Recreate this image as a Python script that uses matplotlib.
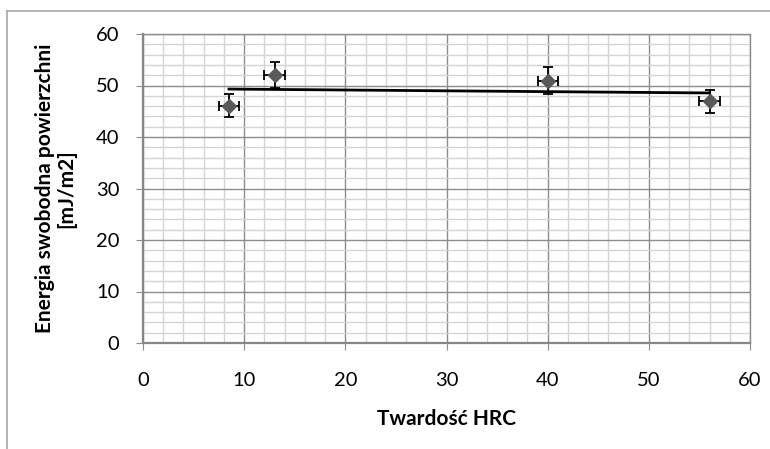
import numpy as np
import matplotlib.pyplot as plt
from matplotlib.lines import Line2D
from matplotlib.ticker import MultipleLocator

hrc = [8.5, 13.0, 40.0, 56.0]
energy = [46.1, 52.0, 50.9, 46.9]
energy_err = [2.3, 2.5, 2.6, 2.3]
hrc_err = [1.0, 1.0, 1.0, 1.0]

plt.rcParams['font.family'] = ['Lato', 'DejaVu Sans']

fig = plt.figure(figsize=(7.7, 4.49), dpi=100)
ax = fig.add_axes([143 / 770, 1 - 343 / 449, (750 - 143) / 770, (343 - 34) / 449])

# ramka wykresu (przycięta: tylko lewa i górna krawędź)
fig.add_artist(Line2D([7 / 770, 7 / 770], [0, 1 - 11 / 449], transform=fig.transFigure,
                      color='#a6a6a6', lw=1.2))
fig.add_artist(Line2D([7 / 770, 1], [1 - 11 / 449, 1 - 11 / 449], transform=fig.transFigure,
                      color='#a6a6a6', lw=1.2))

ax.errorbar(hrc, energy, yerr=energy_err, xerr=hrc_err, fmt='D', color='#595959',
            markersize=7, ecolor='black', elinewidth=1.3, capsize=3.5, capthick=1.3, zorder=4)

# linia trendu
a, b = np.polyfit(hrc, energy, 1)
xs = np.array([min(hrc), max(hrc)])
ax.plot(xs, a * xs + b, color='black', lw=2, zorder=3)

ax.set_xlim(0, 60)
ax.set_ylim(0, 60)
ax.xaxis.set_major_locator(MultipleLocator(10))
ax.yaxis.set_major_locator(MultipleLocator(10))
ax.xaxis.set_minor_locator(MultipleLocator(2))
ax.yaxis.set_minor_locator(MultipleLocator(2))
ax.grid(which='major', color='#8c8c8c', lw=1.0)
ax.grid(which='minor', color='#d4d4d4', lw=1.0)
ax.set_axisbelow(True)
ax.tick_params(which='minor', length=0)
ax.tick_params(which='major', length=5, color='#8c8c8c', labelsize=14.5)
ax.tick_params(axis='y', pad=12)
ax.tick_params(axis='x', pad=16)

for side in ['left', 'bottom']:
    ax.spines[side].set_color('#868686')
    ax.spines[side].set_linewidth(1.6)
for side in ['right', 'top']:
    ax.spines[side].set_color('#8c8c8c')
    ax.spines[side].set_linewidth(1.0)

ax.set_xlabel('Twardość HRC', fontsize=15, fontweight='bold', labelpad=14)
ax.set_ylabel('Energia swobodna powierzchni\n[mJ/m2]', fontsize=15, fontweight='bold',
              labelpad=14, linespacing=1.1)

fig.savefig('out.png', dpi=100)
